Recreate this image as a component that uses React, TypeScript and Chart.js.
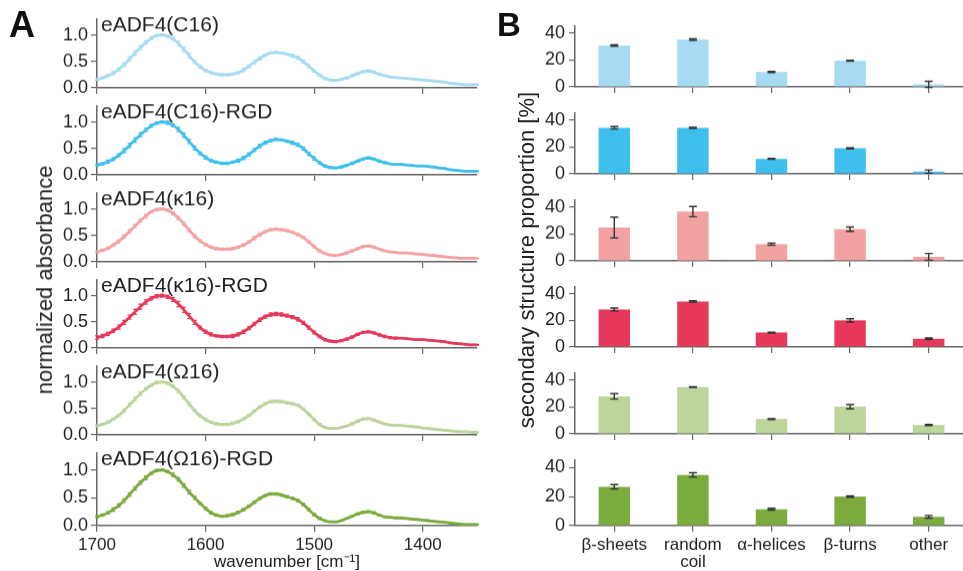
import React, { useEffect, useRef } from "react";
import { Chart, registerables } from "chart.js";
Chart.register(...registerables);

const FONT = '"Liberation Sans", Arial, Helvetica, sans-serif';
const TEXT = "#222";
const AXIS = "#666";

// ---------- data ----------
const WAVENUMBERS = [
  1700, 1695, 1690, 1685, 1680, 1675, 1670, 1665, 1660, 1655,
  1650, 1645, 1640, 1635, 1630, 1625, 1620, 1615, 1610, 1605,
  1600, 1595, 1590, 1585, 1580, 1575, 1570, 1565, 1560, 1555,
  1550, 1545, 1540, 1535, 1530, 1525, 1520, 1515, 1510, 1505,
  1500, 1495, 1490, 1485, 1480, 1475, 1470, 1465, 1460, 1455,
  1450, 1445, 1440, 1435, 1430, 1425, 1420, 1415, 1410, 1405,
  1400, 1395, 1390, 1385, 1380, 1375, 1370, 1365, 1360, 1355, 1350,
];

const SPEC_C16 = [
  0.16, 0.19, 0.23, 0.28, 0.35, 0.44, 0.55, 0.66, 0.76, 0.86,
  0.94, 0.99, 1.0, 0.98, 0.93, 0.84, 0.73, 0.61, 0.49, 0.4,
  0.33, 0.29, 0.26, 0.25, 0.25, 0.26, 0.29, 0.34, 0.41, 0.49,
  0.56, 0.62, 0.66, 0.67, 0.66, 0.64, 0.61, 0.57, 0.5, 0.41,
  0.32, 0.24, 0.18, 0.15, 0.14, 0.16, 0.19, 0.23, 0.27, 0.31,
  0.32, 0.3, 0.26, 0.23, 0.21, 0.2, 0.19, 0.18, 0.17, 0.16,
  0.15, 0.14, 0.13, 0.12, 0.11, 0.09, 0.08, 0.07, 0.06, 0.06, 0.06,
];
const SPEC_C16_RGD = [
  0.19, 0.21, 0.25, 0.3, 0.37, 0.46, 0.56, 0.66, 0.76, 0.85,
  0.93, 0.98, 1.0, 0.99, 0.94, 0.86, 0.75, 0.63, 0.51, 0.41,
  0.33, 0.27, 0.24, 0.22, 0.22, 0.24, 0.27, 0.32, 0.39, 0.47,
  0.55, 0.61, 0.65, 0.67, 0.66, 0.64, 0.61, 0.57, 0.5, 0.4,
  0.31, 0.23, 0.17, 0.14, 0.13, 0.15, 0.18, 0.22, 0.26, 0.3,
  0.32, 0.3, 0.26, 0.23, 0.21, 0.2, 0.2, 0.19, 0.18, 0.17,
  0.17, 0.16, 0.15, 0.13, 0.12, 0.1, 0.09, 0.08, 0.07, 0.07, 0.07,
];
const SPEC_K16 = [
  0.19, 0.22, 0.26, 0.32, 0.39, 0.48, 0.58, 0.68, 0.78, 0.87,
  0.95, 0.99, 1.0, 0.98, 0.92, 0.83, 0.72, 0.6, 0.49, 0.4,
  0.33, 0.28, 0.25, 0.24, 0.24, 0.25, 0.28, 0.32, 0.38, 0.45,
  0.52, 0.57, 0.61, 0.62, 0.61, 0.59, 0.56, 0.52, 0.46, 0.38,
  0.29, 0.21, 0.16, 0.13, 0.12, 0.14, 0.17, 0.21, 0.25, 0.29,
  0.3, 0.28, 0.24, 0.21, 0.19, 0.18, 0.17, 0.17, 0.16, 0.15,
  0.14, 0.13, 0.12, 0.11, 0.1, 0.09, 0.08, 0.07, 0.07, 0.07, 0.07,
];
const SPEC_K16_RGD = [
  0.2, 0.23, 0.27, 0.33, 0.4, 0.49, 0.59, 0.69, 0.79, 0.88,
  0.95, 0.99, 1.0, 0.98, 0.93, 0.84, 0.73, 0.61, 0.49, 0.39,
  0.31, 0.26, 0.23, 0.22, 0.22, 0.23, 0.26, 0.31, 0.38, 0.46,
  0.54, 0.6, 0.64, 0.65, 0.64, 0.62, 0.59, 0.55, 0.48, 0.39,
  0.3, 0.22, 0.16, 0.13, 0.12, 0.14, 0.17, 0.21, 0.26, 0.3,
  0.31, 0.29, 0.25, 0.22, 0.2, 0.19, 0.19, 0.18, 0.17, 0.16,
  0.16, 0.15, 0.14, 0.13, 0.12, 0.1, 0.09, 0.08, 0.07, 0.06, 0.06,
];
const SPEC_O16 = [
  0.17, 0.2, 0.24, 0.3, 0.37, 0.46, 0.57, 0.68, 0.78, 0.87,
  0.94, 0.99, 1.0, 0.98, 0.92, 0.83, 0.71, 0.58, 0.46, 0.36,
  0.29, 0.24, 0.21, 0.2, 0.2, 0.22, 0.25, 0.3, 0.37, 0.45,
  0.53, 0.59, 0.63, 0.64, 0.63, 0.61, 0.59, 0.56, 0.49, 0.39,
  0.29, 0.2, 0.14, 0.12, 0.12, 0.14, 0.17, 0.21, 0.26, 0.3,
  0.31, 0.28, 0.24, 0.21, 0.19, 0.18, 0.18, 0.17, 0.16, 0.15,
  0.13, 0.12, 0.11, 0.1, 0.09, 0.08, 0.07, 0.06, 0.06, 0.05, 0.05,
];
const SPEC_O16_RGD = [
  0.16, 0.19, 0.23, 0.29, 0.36, 0.45, 0.56, 0.67, 0.77, 0.86,
  0.94, 0.99, 1.0, 0.97, 0.91, 0.83, 0.72, 0.6, 0.5, 0.4,
  0.31, 0.23, 0.19, 0.17, 0.18, 0.2, 0.24, 0.29, 0.35, 0.42,
  0.49, 0.54, 0.57, 0.57, 0.55, 0.52, 0.49, 0.45, 0.38, 0.29,
  0.2, 0.13, 0.09, 0.07, 0.07, 0.09, 0.13, 0.17, 0.21, 0.24,
  0.25, 0.23, 0.19, 0.16, 0.15, 0.14, 0.14, 0.13, 0.12, 0.11,
  0.1, 0.09, 0.08, 0.07, 0.06, 0.05, 0.04, 0.03, 0.02, 0.02, 0.02,
];

// standard deviations, in hundredths of normalized absorbance
const ERR_C16 = [
  2, 2, 2, 3, 3, 3, 4, 4, 4, 3, 3, 2, 2, 2, 3, 4, 4, 4, 3, 3,
  2, 2, 2, 2, 2, 2, 2, 3, 3, 3, 3, 2, 2, 2, 2, 2, 3, 3, 3, 3,
  2, 2, 2, 1, 1, 1, 2, 2, 2, 2, 2, 2, 2, 1, 1, 1, 1, 1, 1, 1,
  1, 1, 1, 1, 1, 1, 1, 1, 1, 1, 1,
];
const ERR_C16_RGD = [
  2, 2, 3, 3, 3, 4, 4, 4, 4, 3, 3, 2, 2, 3, 3, 4, 4, 4, 4, 3,
  3, 2, 2, 2, 2, 2, 3, 3, 3, 3, 3, 3, 2, 2, 2, 2, 3, 3, 3, 3,
  3, 2, 2, 2, 1, 2, 2, 2, 2, 2, 2, 2, 2, 2, 1, 1, 1, 1, 1, 1,
  1, 1, 1, 1, 1, 1, 1, 1, 1, 1, 1,
];
const ERR_K16 = [
  2, 2, 2, 2, 3, 3, 3, 3, 3, 3, 2, 2, 2, 2, 3, 3, 3, 3, 3, 2,
  2, 2, 2, 2, 2, 2, 2, 2, 2, 3, 3, 2, 2, 2, 2, 2, 2, 2, 2, 2,
  2, 2, 1, 1, 1, 1, 2, 2, 2, 2, 2, 2, 1, 1, 1, 1, 1, 1, 1, 1,
  1, 1, 1, 1, 1, 1, 1, 1, 1, 1, 1,
];
const ERR_K16_RGD = [
  3, 3, 3, 3, 4, 4, 4, 5, 5, 4, 3, 3, 3, 3, 4, 5, 5, 5, 4, 3,
  3, 3, 2, 2, 2, 3, 3, 3, 3, 3, 3, 3, 3, 3, 3, 3, 3, 3, 3, 3,
  3, 2, 2, 2, 2, 2, 2, 2, 2, 2, 2, 2, 2, 2, 2, 2, 1, 1, 1, 1,
  1, 1, 1, 1, 1, 1, 1, 1, 1, 1, 1,
];
const ERR_O16 = [
  2, 2, 2, 2, 2, 3, 3, 3, 3, 2, 2, 2, 2, 2, 2, 3, 3, 3, 2, 2,
  2, 2, 2, 2, 2, 2, 2, 2, 2, 2, 2, 2, 2, 2, 2, 2, 2, 2, 2, 2,
  2, 2, 1, 1, 1, 1, 1, 2, 2, 2, 2, 2, 1, 1, 1, 1, 1, 1, 1, 1,
  1, 1, 1, 1, 1, 1, 1, 1, 1, 1, 1,
];
const ERR_O16_RGD = [
  2, 2, 2, 3, 3, 3, 3, 3, 3, 3, 2, 2, 2, 2, 3, 3, 3, 3, 3, 2,
  2, 2, 2, 2, 2, 2, 2, 2, 2, 2, 2, 2, 2, 2, 2, 2, 2, 2, 2, 2,
  2, 2, 1, 1, 1, 1, 1, 1, 2, 2, 2, 2, 1, 1, 1, 1, 1, 1, 1, 1,
  1, 1, 1, 1, 1, 1, 1, 1, 1, 1, 1,
];

const SAMPLES = [
  "eADF4(C16)",
  "eADF4(C16)-RGD",
  "eADF4(κ16)",
  "eADF4(κ16)-RGD",
  "eADF4(Ω16)",
  "eADF4(Ω16)-RGD",
];
const COLORS = ["#a6dbf3", "#3ebfec", "#f3a2a3", "#e7395b", "#bdd49b", "#7baa3d"];

const STRUCTURES: (string | string[])[] = ["β-sheets", ["random", "coil"], "α-helices", "β-turns", "other"];

const BAR_C16 = [30.6, 35.1, 11.0, 19.4, 1.8];
const BAR_C16_RGD = [34.2, 34.2, 11.1, 19.0, 1.7];
const BAR_K16 = [24.7, 36.5, 12.4, 23.5, 3.0];
const BAR_K16_RGD = [28.1, 34.1, 10.8, 20.0, 6.2];
const BAR_O16 = [27.8, 34.7, 11.0, 20.2, 6.5];
const BAR_O16_RGD = [26.7, 34.8, 11.3, 20.0, 6.1];

const BAR_ERR_C16 = [0.5, 0.6, 0.4, 0.4, 2.3];
const BAR_ERR_C16_RGD = [0.9, 0.4, 0.3, 0.4, 1.2];
const BAR_ERR_K16 = [7.7, 3.8, 0.8, 1.6, 2.5];
const BAR_ERR_K16_RGD = [1.2, 0.6, 0.3, 1.2, 0.6];
const BAR_ERR_O16 = [2.0, 0.3, 0.3, 1.6, 0.4];
const BAR_ERR_O16_RGD = [1.5, 1.5, 0.6, 0.4, 0.9];

const SPECTRA = [SPEC_C16, SPEC_C16_RGD, SPEC_K16, SPEC_K16_RGD, SPEC_O16, SPEC_O16_RGD];
const SPECTRA_ERR = [ERR_C16, ERR_C16_RGD, ERR_K16, ERR_K16_RGD, ERR_O16, ERR_O16_RGD];
const BARS = [BAR_C16, BAR_C16_RGD, BAR_K16, BAR_K16_RGD, BAR_O16, BAR_O16_RGD];
const BAR_ERRS = [BAR_ERR_C16, BAR_ERR_C16_RGD, BAR_ERR_K16, BAR_ERR_K16_RGD, BAR_ERR_O16, BAR_ERR_O16_RGD];

// ---------- layout ----------
const ZERO_Y = [92, 178.8, 265.6, 352.4, 439.2, 526];
const PLOT_H = 72.8;
const PAGE_H = 571;

function axisGrid() {
  return {
    display: true,
    drawOnChartArea: false,
    drawTicks: true,
    tickLength: 6,
    color: AXIS,
    lineWidth: 1.2,
  };
}
function axisBorder() {
  return { display: true, color: AXIS, width: 1.5 };
}

function spectrumConfig(i: number): any {
  const spec = SPECTRA[i];
  const err = SPECTRA_ERR[i];
  const color = COLORS[i];
  const bottom = i === SPECTRA.length - 1;
  const errPlugin = {
    id: "specErr" + i,
    afterDatasetsDraw(chart: any) {
      const { ctx } = chart;
      const xs = chart.scales.x;
      const ys = chart.scales.y;
      ctx.save();
      ctx.strokeStyle = color;
      ctx.lineWidth = 1.2;
      WAVENUMBERS.forEach((w, k) => {
        const px = xs.getPixelForValue(w);
        const e = err[k] / 100;
        const y1 = ys.getPixelForValue(spec[k] + e);
        const y2 = ys.getPixelForValue(spec[k] - e);
        ctx.beginPath();
        ctx.moveTo(px, y1);
        ctx.lineTo(px, y2);
        ctx.moveTo(px - 2, y1);
        ctx.lineTo(px + 2, y1);
        ctx.moveTo(px - 2, y2);
        ctx.lineTo(px + 2, y2);
        ctx.stroke();
      });
      ctx.restore();
    },
  };
  const titlePlugin = {
    id: "specTitle" + i,
    afterDraw(chart: any) {
      const { ctx, chartArea } = chart;
      ctx.save();
      ctx.font = `21px ${FONT}`;
      ctx.fillStyle = TEXT;
      ctx.textBaseline = "alphabetic";
      ctx.textAlign = "left";
      ctx.fillText(SAMPLES[i], chartArea.left + 4, chartArea.top + 11.5);
      ctx.restore();
    },
  };
  return {
    type: "line",
    data: {
      datasets: [
        {
          data: WAVENUMBERS.map((w, k) => ({ x: w, y: spec[k] })),
          borderColor: color,
          borderWidth: 2.8,
          pointRadius: 0,
          cubicInterpolationMode: "monotone",
        },
      ],
    },
    options: {
      animation: false,
      responsive: false,
      events: [],
      layout: { padding: { top: 22, right: 3, left: 0, bottom: 0 } },
      plugins: { legend: { display: false }, tooltip: { enabled: false } },
      scales: {
        x: {
          type: "linear",
          reverse: true,
          min: 1350,
          max: 1700,
          ticks: {
            stepSize: 100,
            includeBounds: false,
            display: bottom,
            color: TEXT,
            padding: 5,
            maxRotation: 0,
            autoSkip: false,
            font: { family: FONT, size: 17, lineHeight: 1 },
            callback: (v: any) => String(v),
          },
          grid: axisGrid(),
          border: axisBorder(),
          title: {
            display: bottom,
            text: "wavenumber [cm⁻¹]",
            color: TEXT,
            padding: 0,
            font: { family: FONT, size: 17, lineHeight: 1 },
          },
          afterFit: (s: any) => {
            s.height = bottom ? PAGE_H - ZERO_Y[5] : 8;
          },
        },
        y: {
          min: 0,
          max: 1.3,
          ticks: {
            stepSize: 0.5,
            includeBounds: false,
            color: TEXT,
            padding: 3,
            font: { family: FONT, size: 18, lineHeight: 1 },
            callback: (v: any) => Number(v).toFixed(1),
          },
          grid: axisGrid(),
          border: axisBorder(),
          afterFit: (s: any) => {
            s.width = 97;
          },
        },
      },
    },
    plugins: [errPlugin, titlePlugin],
  };
}

function barConfig(i: number): any {
  const vals = BARS[i];
  const errs = BAR_ERRS[i];
  const bottom = i === BARS.length - 1;
  const errPlugin = {
    id: "barErr" + i,
    afterDatasetsDraw(chart: any) {
      const { ctx } = chart;
      const ys = chart.scales.y;
      const meta = chart.getDatasetMeta(0);
      ctx.save();
      ctx.strokeStyle = "#333";
      ctx.lineWidth = 1.4;
      meta.data.forEach((bar: any, k: number) => {
        const px = bar.x;
        const y1 = ys.getPixelForValue(vals[k] + errs[k]);
        const y2 = ys.getPixelForValue(vals[k] - errs[k]);
        ctx.beginPath();
        ctx.moveTo(px, y1);
        ctx.lineTo(px, y2);
        ctx.moveTo(px - 4, y1);
        ctx.lineTo(px + 4, y1);
        ctx.moveTo(px - 4, y2);
        ctx.lineTo(px + 4, y2);
        ctx.stroke();
      });
      ctx.restore();
    },
  };
  return {
    type: "bar",
    data: {
      labels: STRUCTURES,
      datasets: [
        {
          data: vals,
          backgroundColor: COLORS[i],
          borderWidth: 0,
          barPercentage: 0.4,
          categoryPercentage: 1,
        },
      ],
    },
    options: {
      animation: false,
      responsive: false,
      events: [],
      layout: { padding: { top: 6, right: 0, left: 0, bottom: 0 } },
      plugins: { legend: { display: false }, tooltip: { enabled: false } },
      scales: {
        x: {
          type: "category",
          offset: true,
          ticks: {
            display: bottom,
            color: TEXT,
            padding: 5,
            maxRotation: 0,
            autoSkip: false,
            font: { family: FONT, size: 17, lineHeight: 1 },
          },
          grid: { ...axisGrid(), offset: false },
          border: axisBorder(),
          afterFit: (s: any) => {
            s.height = bottom ? PAGE_H - ZERO_Y[5] : 8;
          },
        },
        y: {
          min: 0,
          max: 45,
          ticks: {
            stepSize: 20,
            includeBounds: false,
            color: TEXT,
            padding: 4,
            font: { family: FONT, size: 18, lineHeight: 1 },
            callback: (v: any) => String(v),
          },
          grid: axisGrid(),
          border: axisBorder(),
          afterFit: (s: any) => {
            s.width = 75;
          },
        },
      },
    },
    plugins: [errPlugin],
  };
}

function ChartBox(props: { left: number; top: number; width: number; height: number; make: () => any }) {
  const ref = useRef<HTMLCanvasElement>(null);
  useEffect(() => {
    const chart = new Chart(ref.current as HTMLCanvasElement, props.make());
    return () => chart.destroy();
  }, []);
  return (
    <canvas
      ref={ref}
      width={props.width}
      height={props.height}
      style={{ position: "absolute", left: props.left, top: props.top, width: props.width, height: props.height }}
    />
  );
}

export default function App() {
  const boxes: React.ReactNode[] = [];
  SPECTRA.forEach((_, i) => {
    const top = ZERO_Y[i] - PLOT_H - 22;
    const bottom = i === SPECTRA.length - 1;
    const height = bottom ? PAGE_H - top : 22 + PLOT_H + 8;
    boxes.push(<ChartBox key={"s" + i} left={0} top={top} width={480} height={height} make={() => spectrumConfig(i)} />);
  });
  BARS.forEach((_, i) => {
    const top = ZERO_Y[i] - PLOT_H - 6;
    const bottom = i === BARS.length - 1;
    const height = bottom ? PAGE_H - top : 6 + PLOT_H + 8;
    boxes.push(<ChartBox key={"b" + i} left={500} top={top} width={468} height={height} make={() => barConfig(i)} />);
  });
  return (
    <div
      style={{
        position: "fixed",
        left: 0,
        top: 0,
        width: 963,
        height: PAGE_H,
        overflow: "hidden",
        background: "#fff",
        fontFamily: FONT,
        color: TEXT,
      }}
    >
      {boxes}
      <div style={{ position: "absolute", left: 9, top: 7, fontSize: 36, fontWeight: "bold", lineHeight: 1, color: "#111" }}>A</div>
      <div style={{ position: "absolute", left: 497, top: 8, fontSize: 33, fontWeight: "bold", lineHeight: 1, color: "#111" }}>B</div>
      <div
        style={{
          position: "absolute",
          left: 45,
          top: 280,
          fontSize: 22,
          whiteSpace: "nowrap",
          transform: "translate(-50%, -50%) rotate(-90deg)",
        }}
      >
        normalized absorbance
      </div>
      <div
        style={{
          position: "absolute",
          left: 527,
          top: 260,
          fontSize: 22,
          whiteSpace: "nowrap",
          transform: "translate(-50%, -50%) rotate(-90deg)",
        }}
      >
        secondary structure proportion [%]
      </div>
    </div>
  );
}
